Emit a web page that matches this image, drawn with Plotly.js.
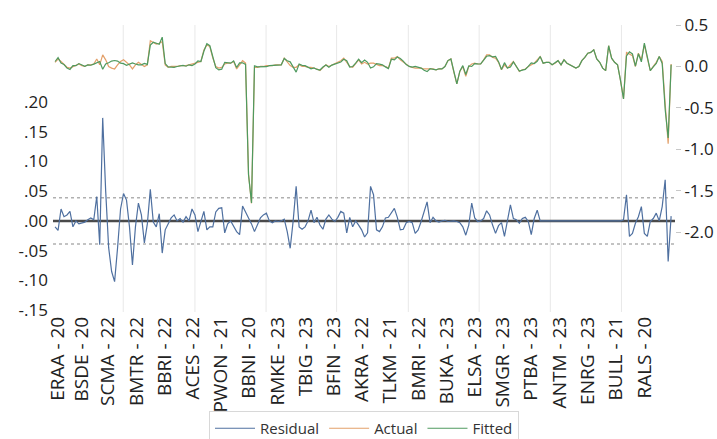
<!DOCTYPE html>
<html>
<head>
<meta charset="utf-8">
<script src="https://cdn.plot.ly/plotly-3.0.1.min.js"></script>
<style>html,body{margin:0;padding:0;background:#fff;}#chart{width:717px;height:439px;}</style>
</head>
<body>
<div id="chart"></div>
<script>
const residual = [
-0.010,-0.016,0.020,0.007,0.010,0.016,-0.010,0.000,-0.005,-0.004,
-0.002,0.002,0.005,0.002,0.041,-0.040,0.173,0.050,-0.045,-0.085,
-0.102,-0.045,0.020,0.046,0.035,-0.010,-0.074,-0.010,0.030,0.010,
-0.037,-0.005,0.053,-0.002,-0.010,0.012,-0.054,-0.015,-0.005,0.005,
0.010,0.000,0.004,-0.002,0.007,0.000,0.020,0.010,-0.018,0.000,
0.016,-0.015,-0.010,-0.010,0.015,0.021,0.022,-0.020,-0.005,0.000,
-0.008,-0.018,-0.023,0.025,0.015,0.005,-0.005,-0.018,-0.005,0.005,
0.010,0.013,0.000,-0.003,0.000,-0.001,0.000,0.003,-0.018,-0.046,
0.000,0.058,-0.010,-0.014,-0.010,0.000,0.018,-0.003,0.006,-0.007,
-0.014,0.003,0.010,0.003,-0.001,0.006,0.016,0.013,-0.020,0.006,
-0.010,0.000,-0.007,-0.015,-0.027,-0.020,0.058,0.044,-0.015,-0.018,
-0.010,0.005,0.006,0.013,0.021,0.006,-0.015,-0.014,-0.003,-0.001,
-0.003,-0.021,-0.015,-0.001,0.016,0.032,-0.003,0.006,0.000,-0.002,
0.000,0.001,-0.001,0.000,0.000,-0.001,-0.003,-0.010,-0.024,-0.007,
0.030,0.005,-0.001,0.000,0.004,0.017,0.010,-0.007,-0.021,-0.008,
-0.003,-0.026,0.000,0.027,0.004,0.002,-0.004,0.004,0.006,-0.001,
-0.023,0.004,0.018,0.000,0.000,0.000,0.000,0.000,0.000,0.000,
0.000,0.000,0.000,0.000,0.000,0.000,0.000,0.000,0.000,0.000,
0.000,0.000,0.000,0.000,0.000,0.000,0.000,0.000,0.000,0.000,
0.000,0.002,0.044,-0.026,-0.021,-0.004,0.007,0.024,-0.021,-0.026,
-0.001,0.004,0.013,0.000,0.024,0.069,-0.068,0.008];

const actual = [
0.05,0.09,0.06,0.03,-0.01,-0.02,0.00,0.01,0.03,0.01,
0.00,0.02,0.02,0.03,0.09,0.02,0.14,0.08,0.00,-0.02,
-0.03,0.02,0.06,0.08,0.05,0.02,-0.03,0.02,0.05,0.03,
0.00,0.02,0.31,0.29,0.27,0.28,0.30,0.02,-0.01,0.00,
0.00,0.00,0.01,0.01,0.01,0.02,0.03,0.04,0.05,0.06,
0.20,0.26,0.24,0.10,0.00,-0.02,-0.01,0.03,0.04,0.04,
0.06,-0.03,0.02,0.07,0.04,-1.30,-1.65,-0.01,-0.01,0.00,
0.00,0.01,0.01,0.01,0.02,0.02,0.02,0.10,0.05,0.01,
-0.01,-0.01,0.02,0.00,0.00,-0.01,-0.01,-0.02,-0.03,-0.05,
-0.02,0.02,0.00,0.02,0.03,0.05,0.07,0.10,0.05,0.00,
-0.01,0.04,0.08,0.03,0.05,0.03,0.04,0.04,0.02,0.01,
0.01,0.00,-0.02,0.10,0.10,0.12,0.08,0.05,0.02,0.00,
-0.01,-0.02,-0.02,-0.02,-0.03,-0.03,-0.03,-0.03,-0.04,-0.03,
-0.03,0.00,0.07,0.09,-0.07,-0.21,-0.06,0.00,-0.12,0.00,
0.03,0.04,0.03,0.03,0.08,0.14,0.14,0.11,0.10,0.05,
-0.04,0.02,-0.02,0.02,0.06,0.00,-0.06,-0.04,-0.03,0.00,
0.02,0.04,0.08,0.12,0.04,0.05,0.05,0.02,0.04,0.07,
0.02,0.08,0.04,0.02,0.00,-0.02,0.00,0.07,0.11,0.16,
0.17,0.20,0.09,0.05,-0.02,-0.05,0.25,0.10,0.05,0.02,
-0.17,-0.39,0.17,0.15,0.13,0.00,0.16,0.08,0.26,0.10,
-0.05,0.00,0.05,0.12,0.06,-0.45,-0.93,0.03];

const fitted = [
0.060,0.106,0.040,0.023,-0.020,-0.036,0.010,0.010,0.035,0.014,
0.002,0.018,0.015,0.028,0.049,0.060,-0.033,0.030,0.045,0.065,
0.072,0.065,0.040,0.034,0.015,0.030,0.044,0.030,0.020,0.020,
0.037,0.025,0.257,0.292,0.280,0.268,0.354,0.035,-0.005,-0.005,
-0.010,0.000,0.006,0.012,0.003,0.020,0.010,0.030,0.068,0.060,
0.184,0.275,0.250,0.110,-0.015,-0.041,-0.032,0.050,0.045,0.040,
0.068,-0.012,0.043,0.045,0.025,-1.305,-1.645,0.008,-0.005,-0.005,
-0.010,-0.003,0.010,0.013,0.020,0.021,0.020,0.097,0.068,0.056,
-0.010,-0.068,0.030,0.014,0.010,-0.010,-0.028,-0.017,-0.036,-0.043,
-0.006,0.017,-0.010,0.017,0.031,0.044,0.054,0.087,0.070,-0.006,
0.000,0.040,0.087,0.045,0.077,0.050,-0.018,-0.004,0.035,0.028,
0.020,-0.005,-0.026,0.087,0.079,0.114,0.095,0.064,0.023,0.001,
-0.007,0.001,-0.005,-0.019,-0.046,-0.062,-0.027,-0.036,-0.040,-0.028,
-0.030,-0.001,0.071,0.090,-0.070,-0.209,-0.057,0.010,-0.096,0.007,
0.000,0.035,0.031,0.030,0.076,0.123,0.130,0.117,0.121,0.058,
-0.037,0.046,-0.020,-0.007,0.056,-0.002,-0.056,-0.044,-0.036,0.001,
0.043,0.036,0.062,0.120,0.040,0.050,0.050,0.020,0.040,0.070,
0.020,0.080,0.040,0.020,0.000,-0.020,0.000,0.070,0.110,0.160,
0.170,0.200,0.090,0.050,-0.020,-0.050,0.250,0.100,0.050,0.020,
-0.170,-0.392,0.126,0.176,0.151,0.004,0.153,0.056,0.281,0.126,
-0.049,-0.004,0.037,0.120,0.036,-0.519,-0.862,0.022];

const tickLabels = ["ERAA - 20","BSDE - 20","SCMA - 22","BMTR - 22","BBRI - 22","ACES - 22",
"PWON - 21","BBNI - 20","RMKE - 23","TBIG - 23","BFIN - 23","AKRA - 22","TLKM - 21",
"BMRI - 22","BUKA - 23","ELSA - 23","SMGR - 23","PTBA - 23","ANTM - 23","ENRG - 23",
"BULL - 21","RALS - 20"];
const tickPositions = [1.0,9.0,17.7,27.3,36.8,46.3,55.8,65.2,74.7,84.2,93.7,103.2,112.6,122.1,131.6,141.1,150.6,160.0,169.5,179.0,188.5,198.0];

const residTickVals = [-0.15,-0.10,-0.05,0.00,0.05,0.10,0.15,0.20];
const residTickText = ["-.15","-.10","-.05",".00",".05",".10",".15",".20"];
const levelTickVals = [-2.0,-1.5,-1.0,-0.5,0.0,0.5];
const levelTickText = ["-2.0","-1.5","-1.0","-0.5","0.0","0.5"];
const seBand = 0.039;
const gridPositions = [22.9,47.0,70.9,94.6,118.7,142.5,166.4,190.3];

const obs = residual.map((_, i) => i);

const traces = [
  {x: obs, y: residual, name: "Residual", type: "scatter", mode: "lines",
   line: {color: "#4f70a0", width: 1.2}, yaxis: "y"},
  {x: obs, y: actual, name: "Actual", type: "scatter", mode: "lines",
   line: {color: "#e3a06a", width: 1.2}, yaxis: "y2"},
  {x: obs, y: fitted, name: "Fitted", type: "scatter", mode: "lines",
   line: {color: "#4f9a5f", width: 1.2}, yaxis: "y2"}
];

const shapes = [];
gridPositions.forEach(g => shapes.push({type: "line", xref: "x", yref: "paper",
  x0: g, x1: g, y0: 0, y1: 1, line: {color: "#e8e8e8", width: 1}, layer: "below"}));
[seBand, -seBand].forEach(v => shapes.push({type: "line", xref: "paper", yref: "y",
  x0: 0, x1: 1, y0: v, y1: v, line: {color: "#b0b0b0", width: 1.5, dash: "dot"}, layer: "below"}));
shapes.push({type: "line", xref: "paper", yref: "y", x0: 0, x1: 1, y0: 0, y1: 0,
  line: {color: "#4a4a4a", width: 2.5}, layer: "below"});

const layout = {
  width: 717, height: 439,
  margin: {l: 53, r: 42, t: 25, b: 127, autoexpand: false},
  paper_bgcolor: "#fff", plot_bgcolor: "#fff",
  font: {family: "Open Sans, sans-serif", size: 16, color: "#222"},
  showlegend: true,
  legend: {orientation: "h", x: 0.5, xanchor: "center",
    y: -0.345, yanchor: "top", bgcolor: "rgba(255,255,255,0)",
    bordercolor: "#d8d8d8", borderwidth: 1, font: {size: 15, color: "#333"},
    itemwidth: 40},
  xaxis: {range: [-0.7, 208.3], tickmode: "array", tickvals: tickPositions, ticktext: tickLabels,
    tickangle: -90, showgrid: false, zeroline: false, showline: false, ticks: "",
    tickfont: {size: 19}, automargin: false},
  yaxis: {range: [-0.153, 0.329], tickmode: "array", tickvals: residTickVals, ticktext: residTickText,
    showgrid: false, zeroline: false, showline: false, ticks: "", tickfont: {size: 17},
    ticklabelstandoff: 4, automargin: false},
  yaxis2: {range: [-2.96, 0.5], overlaying: "y", side: "right", tickmode: "array",
    tickvals: levelTickVals, ticktext: levelTickText, showgrid: false, zeroline: false,
    showline: false, ticks: "outside", ticklen: 5, tickcolor: "#c8c8c8", tickfont: {size: 17},
    automargin: false},
  shapes: shapes
};

Plotly.newPlot("chart", traces, layout, {displayModeBar: false, staticPlot: true});
</script>
</body>
</html>
